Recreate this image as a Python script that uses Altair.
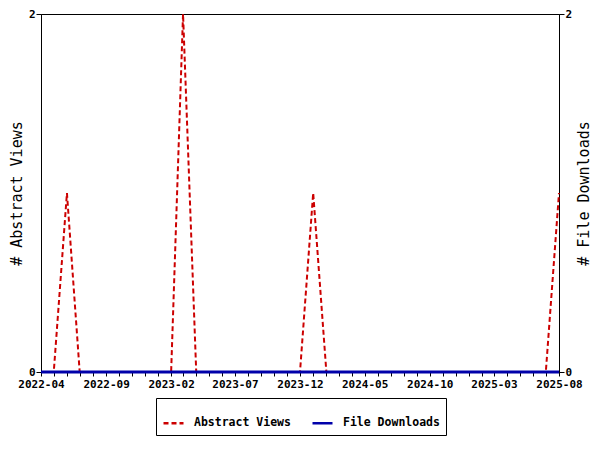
import altair as alt
import pandas as pd

months = [
    "2022-04", "2022-05", "2022-06", "2022-07", "2022-08", "2022-09", "2022-10", "2022-11", "2022-12",
    "2023-01", "2023-02", "2023-03", "2023-04", "2023-05", "2023-06", "2023-07", "2023-08", "2023-09",
    "2023-10", "2023-11", "2023-12", "2024-01", "2024-02", "2024-03", "2024-04", "2024-05", "2024-06",
    "2024-07", "2024-08", "2024-09", "2024-10", "2024-11", "2024-12", "2025-01", "2025-02", "2025-03",
    "2025-04", "2025-05", "2025-06", "2025-07", "2025-08",
]
abstract_views = [
    0, 0, 1, 0, 0, 0, 0, 0, 0,
    0, 0, 2, 0, 0, 0, 0, 0, 0,
    0, 0, 0, 1, 0, 0, 0, 0, 0,
    0, 0, 0, 0, 0, 0, 0, 0, 0,
    0, 0, 0, 0, 1,
]
file_downloads = [0] * len(months)

series_names = ["Abstract Views", "File Downloads"]
series_colors = ["#CC0000", "#0000AA"]
series_dashes = [[5, 3], [1, 0]]
y_ticks = [0, 2]

rows = []
for m, v in zip(months, abstract_views):
    rows.append({"date": m + "-01T00:00:00", "value": v, "series": series_names[0]})
for m, v in zip(months, file_downloads):
    rows.append({"date": m + "-01T00:00:00", "value": v, "series": series_names[1]})
df = pd.DataFrame(rows)

FONT = "DejaVu Sans Mono"
LEGEND_SYMBOL = "M-1,0H0.143"

tick_values = [alt.DateTime(year=int(m[:4]), month=int(m[5:])) for m in months]

x_enc = alt.X(
    "date:T",
    scale=alt.Scale(
        domain=[alt.DateTime(year=2022, month=4), alt.DateTime(year=2025, month=8)],
        nice=False,
    ),
    axis=alt.Axis(
        values=tick_values,
        labelExpr="(year(datum.value)*12 + month(datum.value) - (2022*12+3)) % 5 == 0 ? timeFormat(datum.value, '%Y-%m') : ''",
        title=None,
        tickSize=4,
        labelPadding=2,
        labelFlush=False,
        labelOverlap=False,
    ),
)

color_enc = alt.Color(
    "series:N",
    scale=alt.Scale(domain=series_names, range=series_colors),
    legend=alt.Legend(title=None, symbolType=LEGEND_SYMBOL),
)
dash_enc = alt.StrokeDash(
    "series:N",
    scale=alt.Scale(domain=series_names, range=series_dashes),
    legend=alt.Legend(title=None, symbolType=LEGEND_SYMBOL),
)

base = alt.Chart(df)

views = base.transform_filter(alt.datum.series == series_names[0]).mark_line(strokeWidth=2).encode(
    x=x_enc,
    y=alt.Y(
        "value:Q",
        scale=alt.Scale(domain=[0, 2], nice=False),
        axis=alt.Axis(values=y_ticks, title="# Abstract Views", orient="left",
                      tickSize=5, labelPadding=1, titlePadding=4,
                      titleFont=FONT, titleFontSize=15, titleFontWeight="normal"),
    ),
    color=color_enc,
    strokeDash=dash_enc,
)

downloads = base.transform_filter(alt.datum.series == series_names[1]).mark_line(strokeWidth=3).encode(
    x=x_enc,
    y=alt.Y(
        "value:Q",
        scale=alt.Scale(domain=[0, 2], nice=False),
        axis=alt.Axis(values=y_ticks, title="# File Downloads", orient="right",
                      tickSize=5, labelPadding=1, titlePadding=20, titleAngle=270,
                      titleFont=FONT, titleFontSize=15, titleFontWeight="normal"),
    ),
    color=color_enc,
    strokeDash=dash_enc,
)

chart = (
    alt.layer(views, downloads)
    .resolve_scale(y="independent")
    .properties(
        width=518,
        height=358,
        autosize=alt.AutoSizeParams(type="none"),
        padding={"left": 33, "top": 6, "right": 33, "bottom": 70},
        background="white",
    )
    .configure_view(stroke="black", strokeWidth=1)
    .configure_axis(
        grid=False,
        domainColor="black",
        tickColor="black",
        labelColor="black",
        titleColor="black",
        labelFont=FONT,
        labelFontSize=11,
        labelFontWeight="bold",
        titleFont=FONT,
        titleFontSize=15,
        titleFontWeight="normal",
    )
    .configure_legend(
        orient="none",
        legendX=115,
        legendY=384,
        direction="horizontal",
        strokeColor="black",
        fillColor="white",
        padding=6,
        labelFont=FONT,
        labelFontSize=11.5,
        labelFontWeight="bold",
        labelColor="black",
        symbolSize=1225,
        symbolStrokeWidth=2.5,
        labelOffset={"expr": "-6"},
        columnPadding=16,
    )
)

chart.save("out.html", embed_options={"renderer": "svg", "actions": False})
